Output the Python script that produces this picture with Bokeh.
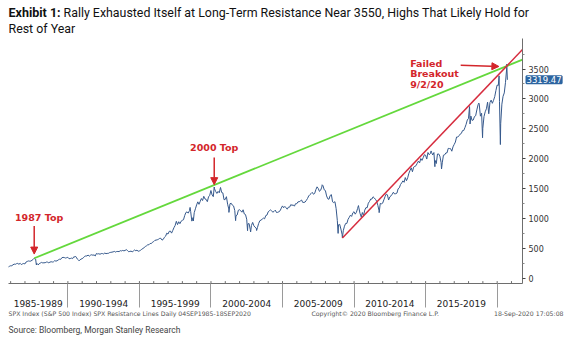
import datetime as dt
from bokeh.plotting import figure
from bokeh.models import Range1d, FixedTicker, Label, Arrow, NormalHead
from bokeh.embed import file_html
from bokeh.resources import INLINE

monthly_start_year, monthly_start_month = 1985, 9
spx_monthly = [
    182.1, 189.8, 202.2, 211.3,
    211.8, 226.9, 238.9, 235.5, 247.4, 250.8, 236.1, 252.9, 231.3, 243.0, 249.2, 242.2,
    274.1, 284.2, 291.7, 288.4, 290.1, 304.0, 318.7, 329.8, 321.8, 251.8, 230.3, 247.1,
    257.1, 267.8, 258.9, 261.3, 262.2, 273.5, 272.0, 261.5, 271.9, 279.0, 273.7, 277.7,
    297.5, 288.9, 294.9, 309.6, 320.5, 318.0, 346.1, 351.5, 349.2, 340.4, 346.0, 353.4,
    329.1, 331.9, 339.9, 330.8, 361.2, 358.0, 356.2, 322.6, 306.1, 304.0, 322.2, 330.2,
    343.9, 367.1, 375.2, 375.3, 389.8, 371.2, 387.8, 395.4, 387.9, 392.5, 375.2, 417.1,
    408.8, 412.7, 403.7, 415.0, 415.4, 408.1, 424.2, 414.0, 417.8, 418.7, 431.4, 435.7,
    438.8, 443.4, 451.7, 440.2, 450.2, 450.5, 448.1, 463.6, 458.9, 467.8, 461.8, 466.5,
    481.6, 467.1, 445.8, 450.9, 456.5, 444.3, 458.3, 475.5, 462.7, 472.4, 453.7, 459.3,
    470.4, 487.4, 500.7, 514.7, 533.4, 544.8, 562.1, 561.9, 584.4, 581.5, 605.4, 615.9,
    636.0, 640.4, 645.5, 654.2, 669.1, 670.6, 640.0, 652.0, 687.3, 705.3, 757.0, 740.7,
    786.2, 790.8, 757.1, 801.3, 848.3, 885.1, 954.3, 899.5, 947.3, 914.6, 955.4, 970.4,
    980.3, 1049.3, 1101.8, 1111.8, 1090.8, 1133.8, 1120.7, 957.3, 1017.0, 1098.7, 1163.6, 1229.2,
    1279.6, 1238.3, 1286.4, 1335.2, 1301.8, 1372.7, 1328.7, 1320.4, 1282.7, 1362.9, 1388.9, 1469.3,
    1394.5, 1366.4, 1498.6, 1452.4, 1420.6, 1454.6, 1430.8, 1517.7, 1436.5, 1429.4, 1315.2, 1320.3,
    1366.0, 1239.9, 1160.3, 1249.5, 1255.8, 1224.4, 1211.2, 1133.6, 1040.9, 1059.8, 1139.5, 1148.1,
    1130.2, 1106.7, 1147.4, 1076.9, 1067.1, 989.8, 911.6, 916.1, 815.3, 885.8, 936.3, 879.8,
    855.7, 841.2, 848.2, 916.9, 963.6, 974.5, 990.3, 1008.0, 996.0, 1050.7, 1058.2, 1111.9,
    1131.1, 1144.9, 1126.2, 1107.3, 1120.7, 1140.8, 1101.7, 1104.2, 1114.6, 1130.2, 1173.8, 1211.9,
    1181.3, 1203.6, 1180.6, 1156.9, 1191.5, 1191.3, 1234.2, 1220.3, 1228.8, 1207.0, 1249.5, 1248.3,
    1280.1, 1280.7, 1294.9, 1310.6, 1270.1, 1270.2, 1276.7, 1303.8, 1335.9, 1377.9, 1400.6, 1418.3,
    1438.2, 1406.8, 1420.9, 1482.4, 1530.6, 1503.4, 1455.3, 1474.0, 1526.8, 1549.4, 1481.1, 1468.4,
    1378.6, 1330.6, 1322.7, 1385.6, 1400.4, 1280.0, 1267.4, 1282.8, 1166.4, 968.8, 896.2, 903.3,
    825.9, 735.1, 797.9, 872.8, 919.1, 919.3, 987.5, 1020.6, 1057.1, 1036.2, 1095.6, 1115.1,
    1073.9, 1104.5, 1169.4, 1186.7, 1089.4, 1030.7, 1101.6, 1049.3, 1141.2, 1183.3, 1180.6, 1257.6,
    1286.1, 1327.2, 1325.8, 1363.6, 1345.2, 1320.6, 1292.3, 1218.9, 1131.4, 1253.3, 1247.0, 1257.6,
    1312.4, 1365.7, 1408.5, 1397.9, 1310.3, 1362.2, 1379.3, 1406.6, 1440.7, 1412.2, 1416.2, 1426.2,
    1498.1, 1514.7, 1569.2, 1597.6, 1630.7, 1606.3, 1685.7, 1633.0, 1681.6, 1756.5, 1805.8, 1848.4,
    1782.6, 1859.5, 1872.3, 1884.0, 1923.6, 1960.2, 1930.7, 2003.4, 1972.3, 2018.1, 2067.6, 2058.9,
    1995.0, 2104.5, 2067.9, 2085.5, 2107.4, 2063.1, 2103.8, 1972.2, 1920.0, 2079.4, 2080.4, 2043.9,
    1940.2, 1932.2, 2059.7, 2065.3, 2097.0, 2098.9, 2173.6, 2171.0, 2168.3, 2126.2, 2198.8, 2238.8,
    2278.9, 2363.6, 2362.7, 2384.2, 2411.8, 2423.4, 2470.3, 2471.7, 2519.4, 2575.3, 2647.6, 2673.6,
    2823.8, 2713.8, 2640.9, 2648.1, 2705.3, 2718.4, 2816.3, 2901.5, 2914.0, 2711.7, 2760.2, 2506.9,
    2704.1, 2784.5, 2834.4, 2945.8, 2752.1, 2941.8, 2980.4, 2926.5, 2976.7, 3037.6, 3141.0, 3230.8,
    3225.5, 2954.2, 2584.6, 2912.4, 3044.3, 3100.3, 3271.1, 3500.3,
]
extreme_dates = [
    "1985-09-04", "1987-08-25", "1987-10-19", "1987-12-04", "1990-07-16", "1990-10-11",
    "1998-07-17", "1998-10-08", "2000-03-24", "2000-09-01", "2001-04-04", "2001-09-21",
    "2002-07-23", "2002-10-09", "2003-03-11", "2007-10-09", "2008-11-20", "2009-03-09",
    "2010-04-23", "2010-07-02", "2011-04-29", "2011-10-03", "2015-05-21", "2015-08-25",
    "2016-02-11", "2018-01-26", "2018-02-08", "2018-09-20", "2018-12-24", "2020-02-19",
    "2020-03-23", "2020-09-02", "2020-09-18",
]
extreme_values = [
    184.0, 336.8, 224.8, 223.9, 369.0, 295.5,
    1186.8, 959.4, 1527.5, 1520.8, 1103.3, 965.8,
    797.7, 776.8, 800.7, 1565.2, 752.4, 676.5,
    1217.3, 1022.6, 1363.6, 1099.2, 2130.8, 1867.6,
    1829.1, 2872.9, 2581.0, 2930.8, 2351.1, 3386.2,
    2237.4, 3580.8, 3319.47,
]
period_labels = ["1985-1989", "1990-1994", "1995-1999", "2000-2004",
                 "2005-2009", "2010-2014", "2015-2019"]
period_starts = [1985, 1990, 1995, 2000, 2005, 2010, 2015, 2020]
y_ticks = [0, 500, 1000, 1500, 2000, 2500, 3000, 3500]
last_value = 3319.47
resistance_level = 3550
top_1987 = ("1987-08-25", 336.8)
top_2000 = ("2000-03-24", 1527.5)
low_2009 = ("2009-03-09", 676.5)
breakout = ("2020-09-02", 3580.8)

X_START, X_END = 1985.85, 2021.77
Y_START, Y_END = -85, 4010


def dec(s):
    d = dt.date.fromisoformat(s)
    a = dt.date(d.year, 1, 1)
    b = dt.date(d.year + 1, 1, 1)
    return d.year + (d - a).days / (b - a).days


pts = []
for i, v in enumerate(spx_monthly):
    k = monthly_start_month - 1 + i
    y, m = monthly_start_year + k // 12, k % 12 + 1
    pts.append((y + (m - 1 + 0.95) / 12, v))
for d, v in zip(extreme_dates, extreme_values):
    pts.append((dec(d), v))
pts.sort()
xs = [p[0] for p in pts]
ys = [p[1] for p in pts]


def trend(anchor, x_end):
    x1, y1 = dec(anchor[0]), anchor[1]
    x2, y2 = dec(breakout[0]), resistance_level
    slope = (y2 - y1) / (x2 - x1)
    return [x1, x_end], [y1, y1 + slope * (x_end - x1)]


p = figure(width=567, height=358, output_backend="svg", toolbar_location=None,
           x_range=Range1d(X_START, X_END), y_range=Range1d(Y_START, Y_END),
           y_axis_location="right", min_border_left=8, min_border_right=45,
           min_border_top=38, min_border_bottom=75)
p.outline_line_color = None
p.grid.visible = False
p.background_fill_color = "white"
p.border_fill_color = "white"

# bottom axis: labels centred in 5-year bins, separators at bin edges
centers = [(max(a, X_START) + b) / 2 for a, b in zip(period_starts[:-1], period_starts[1:])]
xa = p.xaxis[0]
xa.ticker = FixedTicker(ticks=centers, minor_ticks=period_starts[1:])
xa.major_label_overrides = {c: lab for c, lab in zip(centers, period_labels)}
xa.major_tick_out = 0
xa.major_tick_in = 0
xa.minor_tick_out = 24
xa.minor_tick_in = 0
xa.minor_tick_line_color = "#9a9a9a"
xa.axis_line_color = "#6e6e6e"
xa.major_label_standoff = -8
xa.major_label_text_font = "DejaVu Sans"
xa.major_label_text_font_size = "9px"
xa.major_label_text_color = "#222222"

# yearly small ticks inside the frame
years = list(range(1986, 2022))
p.segment(x0=years, y0=[Y_START] * len(years), x1=years, y1=[Y_START + 40] * len(years),
          line_color="#6e6e6e", line_width=1)

ya = p.yaxis[0]
ya.ticker = FixedTicker(ticks=y_ticks, minor_ticks=[t + 250 for t in y_ticks])
ya.major_tick_out = 3
ya.major_tick_in = 0
ya.minor_tick_out = 2
ya.minor_tick_in = 0
ya.axis_line_color = "#6e6e6e"
ya.major_tick_line_color = "#444444"
ya.minor_tick_line_color = "#888888"
ya.major_label_standoff = 3
ya.major_label_text_font = "DejaVu Sans"
ya.major_label_text_font_size = "8px"
ya.major_label_text_color = "#333333"

# series
p.line(xs, ys, line_color="#36598c", line_width=1.0)
gx, gy = trend(top_1987, X_END)
p.line(gx, gy, line_color="#64d83c", line_width=1.8)
rx, ry = trend(low_2009, X_END)
p.line(rx, ry, line_color="#d62c3e", line_width=1.5)

RED = "#d3262b"


def red_text(x, y, t, align="center"):
    p.add_layout(Label(x=x, y=y, text=t, text_align=align, text_baseline="middle",
                       text_font="DejaVu Sans", text_font_style="bold",
                       text_font_size="9.5px", text_color=RED))


def red_arrow(x0, y0, x1, y1):
    p.add_layout(Arrow(x_start=x0, y_start=y0, x_end=x1, y_end=y1,
                       line_color=RED, line_width=1.5,
                       end=NormalHead(size=7, fill_color=RED, line_color=RED)))


x87, v87 = dec(top_1987[0]), top_1987[1]
red_text(x87 + 0.34, v87 + 685, "1987 Top")
red_arrow(x87, v87 + 540, x87, v87 + 70)

x00, v00 = dec(top_2000[0]), top_2000[1]
red_text(x00, v00 + 665, "2000 Top")
red_arrow(x00, v00 + 495, x00, v00 + 40)

xb, vb = dec(breakout[0]), breakout[1]
for i, t in enumerate(["Failed", "Breakout", "9/2/20"]):
    red_text(xb - 6.75, vb + 15 - i * 175, t, align="left")
red_arrow(xb - 3.22, vb - 18, xb - 0.55, vb - 38)


# texts outside the frame live in side panels (so they are not clipped);
# their position is given in canvas pixels
def outer_text(side, x, y, t, size, color, font="Roboto", style="normal", align="left",
               y_units="canvas", **extra):
    p.add_layout(Label(x=x, y=y, x_units="canvas", y_units=y_units, text=t,
                       text_font=font, text_font_style=style, text_font_size=size,
                       text_color=color, text_align=align, text_baseline="middle",
                       **extra), side)


outer_text("above", 8, 12, "Exhibit 1:", "12.5px", "#111111", style="bold")
outer_text("above", 63, 12,
           "Rally Exhausted Itself at Long-Term Resistance Near 3550, Highs That Likely Hold for",
           "12.4px", "#111111")
outer_text("above", 8, 313,
           "SPX Index (S&P 500 Index) SPX Resistance Lines  Daily 04SEP1985-18SEP2020",
           "6.2px", "#555555", font="DejaVu Sans")
outer_text("below", 8, 27.5, "Rest of Year", "12.4px", "#111111")
outer_text("below", 311, 313, "Copyright\u00a9 2020 Bloomberg Finance L.P.", "6.2px", "#555555",
           font="DejaVu Sans")
outer_text("below", 563, 313, "18-Sep-2020 17:05:08", "6.2px", "#555555", font="DejaVu Sans",
           align="right")
outer_text("below", 8, 329, "Source: Bloomberg, Morgan Stanley Research", "8.5px", "#444444")
outer_text("below", 526, last_value, f"{last_value:.2f}", "8.5px", "white", font="DejaVu Sans",
           y_units="data", background_fill_color="#2c64a0",
           border_line_color="#2c64a0", border_line_width=2)

open("out.html", "w").write(file_html(p, INLINE))
